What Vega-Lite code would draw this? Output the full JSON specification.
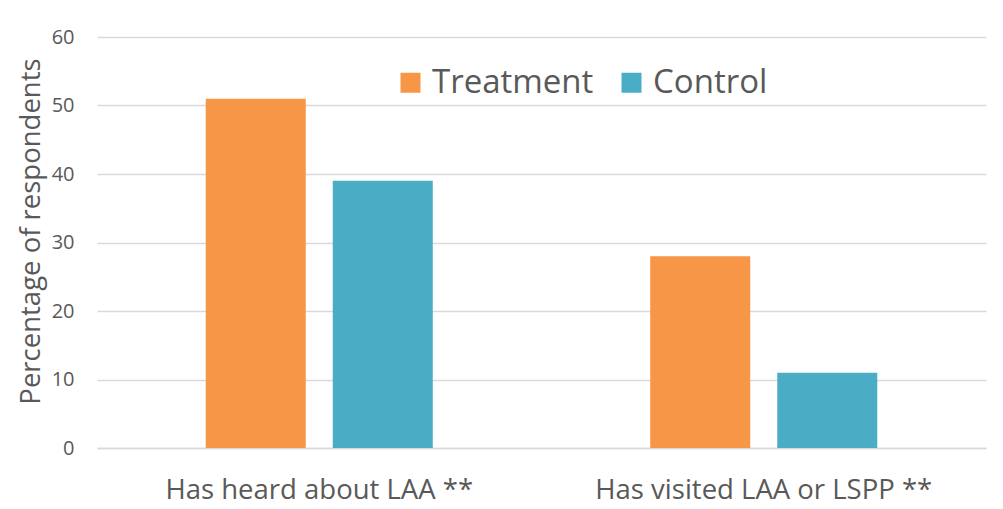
{
  "$schema": "https://vega.github.io/schema/vega-lite/v6.json",
  "width": 889,
  "height": 411,
  "autosize": "none",
  "padding": {"left": 97, "top": 37, "right": 17, "bottom": 61},
  "background": "white",
  "data": {"values": [
    {"category": "Has heard about LAA **", "group": "Treatment", "value": 51},
    {"category": "Has heard about LAA **", "group": "Control", "value": 39},
    {"category": "Has visited LAA or LSPP **", "group": "Treatment", "value": 28},
    {"category": "Has visited LAA or LSPP **", "group": "Control", "value": 11}
  ]},
  "mark": {"type": "bar"},
  "encoding": {
    "x": {"field": "category", "type": "nominal", "sort": null,
      "scale": {"paddingInner": 0, "paddingOuter": 0},
      "axis": {"title": null, "labelAngle": 0, "ticks": false, "domainColor": "#d9d9d9", "domainWidth": 1.5,
        "labelFont": "Open Sans", "labelFontSize": 27.5, "labelColor": "#595959", "labelPadding": 28, "labelLimit": 0}},
    "xOffset": {"field": "group", "type": "nominal", "sort": ["Treatment", "Control"],
      "scale": {"paddingInner": 0.2126, "paddingOuter": 0.856}},
    "y": {"field": "value", "type": "quantitative",
      "scale": {"domain": [0, 60]},
      "axis": {"title": "Percentage of respondents", "values": [0, 10, 20, 30, 40, 50, 60],
        "domain": false, "ticks": false, "gridColor": "#d9d9d9", "gridWidth": 1.5,
        "labelFont": "Open Sans", "labelFontSize": 20, "labelColor": "#595959", "labelPadding": 23,
        "titleFont": "Open Sans", "titleFontSize": 27.5, "titleFontWeight": "normal", "titleColor": "#595959", "titlePadding": 6, "titleY": 194}},
    "color": {"field": "group", "type": "nominal", "sort": ["Treatment", "Control"],
      "scale": {"domain": ["Treatment", "Control"], "range": ["#F79646", "#4BACC6"]},
      "legend": {"title": null, "orient": "none", "legendX": 297, "legendY": 29, "direction": "horizontal",
        "symbolType": "square", "symbolSize": 400, "symbolStrokeWidth": 0, "symbolOpacity": 1, "labelLimit": 0,
        "labelFont": "Open Sans", "labelFontSize": 33, "labelColor": "#595959", "columnPadding": 21, "labelOffset": 5}}
  },
  "config": {"view": {"stroke": null}}
}
